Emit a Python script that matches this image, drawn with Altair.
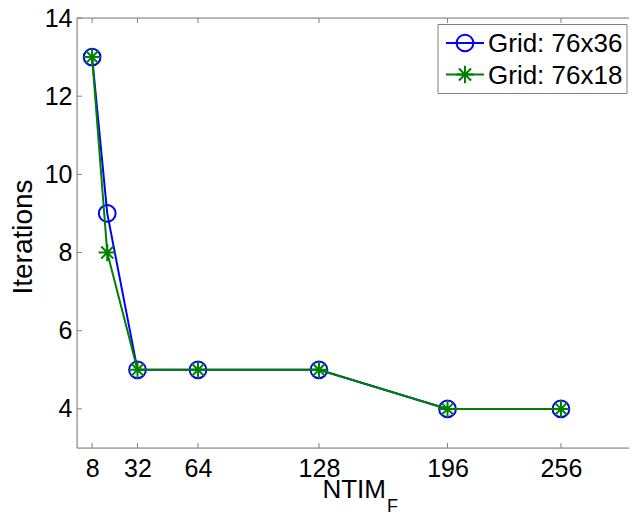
import altair as alt
import pandas as pd

# ---- data ----
ntim = [8, 16, 32, 64, 128, 196, 256]
iter_76x36 = [13, 9, 5, 5, 5, 4, 4]
iter_76x18 = [13, 8, 5, 5, 5, 4, 4]
series_names = ["Grid: 76x36", "Grid: 76x18"]
series_colors = ["#0000ff", "#008000"]
x_ticks = [8, 32, 64, 128, 196, 256]
y_ticks = [4, 6, 8, 10, 12, 14]

W, H = 552, 430
FONT = "Liberation Sans"
GRAY = "#808080"
STAR = "M-1,0L1,0M0,-1L0,1M-0.7,-0.7L0.7,0.7M-0.7,0.7L0.7,-0.7"

df36 = pd.DataFrame({"ntim": ntim, "iter": iter_76x36})
df18 = pd.DataFrame({"ntim": ntim, "iter": iter_76x18})

xs = alt.Scale(domain=[0, 292], nice=False, zero=False)
ys = alt.Scale(domain=[3, 14], nice=False, zero=False)

X = alt.X("ntim:Q", scale=xs,
          axis=alt.Axis(values=x_ticks, title=None, grid=False, ticks=False, domain=False,
                        labelFont=FONT, labelFontSize=25, labelColor="black", labelPadding=8,
                        labelFlush=False))
Y = alt.Y("iter:Q", scale=ys,
          axis=alt.Axis(values=y_ticks, title=None, grid=False, ticks=False, domain=False,
                        labelFont=FONT, labelFontSize=25, labelColor="black", labelPadding=5))

line36 = alt.Chart(df36).mark_line(color=series_colors[0], strokeWidth=2).encode(x=X, y=Y)
pts36 = alt.Chart(df36).mark_point(shape="circle", filled=False, color=series_colors[0],
                                   strokeWidth=2, size=280, opacity=1).encode(x=X, y=Y)
line18 = alt.Chart(df18).mark_line(color=series_colors[1], strokeWidth=2).encode(x=X, y=Y)
pts18 = alt.Chart(df18).mark_point(shape=STAR, filled=False, color=series_colors[1],
                                   strokeWidth=2, size=300, opacity=1).encode(x=X, y=Y)

one = pd.DataFrame({"t": ["NTIM"]})

# box lines (top, bottom, left) -- the right side lies outside the picture
box_top = alt.Chart(one).mark_rule(color=GRAY, strokeWidth=1).encode(
    x=alt.value(0), x2=alt.value(W), y=alt.value(0))
box_bot = alt.Chart(one).mark_rule(color=GRAY, strokeWidth=1).encode(
    x=alt.value(0), x2=alt.value(W), y=alt.value(H))
box_left = alt.Chart(one).mark_rule(color=GRAY, strokeWidth=1).encode(
    x=alt.value(0), y=alt.value(0), y2=alt.value(H))

# inward ticks (MATLAB style)
dfxt = pd.DataFrame({"ntim": x_ticks})
dfyt = pd.DataFrame({"iter": y_ticks})
xt_bot = alt.Chart(dfxt).mark_rule(color=GRAY, strokeWidth=1).encode(
    x=alt.X("ntim:Q", scale=xs), y=alt.value(H), y2=alt.value(H - 5))
xt_top = alt.Chart(dfxt).mark_rule(color=GRAY, strokeWidth=1).encode(
    x=alt.X("ntim:Q", scale=xs), y=alt.value(0), y2=alt.value(5))
yt_left = alt.Chart(dfyt).mark_rule(color=GRAY, strokeWidth=1).encode(
    y=alt.Y("iter:Q", scale=ys), x=alt.value(0), x2=alt.value(5))

# titles
xtitle = alt.Chart(one).mark_text(font=FONT, fontSize=26, align="right", baseline="alphabetic",
                                  color="black").encode(
    x=alt.value(309), y=alt.value(480), text="t:N")
xsub = alt.Chart(pd.DataFrame({"t": ["F"]})).mark_text(font=FONT, fontSize=18, align="left",
                                                       baseline="alphabetic", color="black").encode(
    x=alt.value(310), y=alt.value(494), text="t:N")
ytitle = alt.Chart(pd.DataFrame({"t": ["Iterations"]})).mark_text(
    font=FONT, fontSize=28, align="center", baseline="middle", angle=270, color="black").encode(
    x=alt.value(-53), y=alt.value(219), text="t:N")

# legend
legbox = alt.Chart(one).mark_rect(fill="white", stroke=GRAY, strokeWidth=1).encode(
    x=alt.value(361), x2=alt.value(550), y=alt.value(6.5), y2=alt.value(75.5))
leg_layers = [legbox]
row_y = [25, 56.5]
shapes = ["circle", STAR]
sizes = [280, 300]
for i, name in enumerate(series_names):
    d = pd.DataFrame({"t": [name]})
    leg_layers.append(alt.Chart(d).mark_rule(color=series_colors[i], strokeWidth=2).encode(
        x=alt.value(369), x2=alt.value(407), y=alt.value(row_y[i])))
    leg_layers.append(alt.Chart(d).mark_point(shape=shapes[i], filled=False, color=series_colors[i],
                                              strokeWidth=2, size=sizes[i], opacity=1).encode(
        x=alt.value(388), y=alt.value(row_y[i])))
    leg_layers.append(alt.Chart(d).mark_text(font=FONT, fontSize=26, align="left", baseline="middle",
                                             color="black").encode(
        x=alt.value(411), y=alt.value(row_y[i] + 1), text="t:N"))

chart = alt.layer(
    box_top, box_bot, box_left,
    xt_bot, xt_top, yt_left,
    line36, pts36, line18, pts18,
    xtitle, xsub, ytitle,
    *leg_layers
).properties(
    width=W, height=H,
    autosize=alt.AutoSizeParams(type="none"),
    padding={"left": 69, "top": 10, "right": 0, "bottom": 72},
).configure_view(stroke="transparent", strokeWidth=0).configure(background="white")

chart.save("out.html", embed_options={"renderer": "svg", "actions": False})
